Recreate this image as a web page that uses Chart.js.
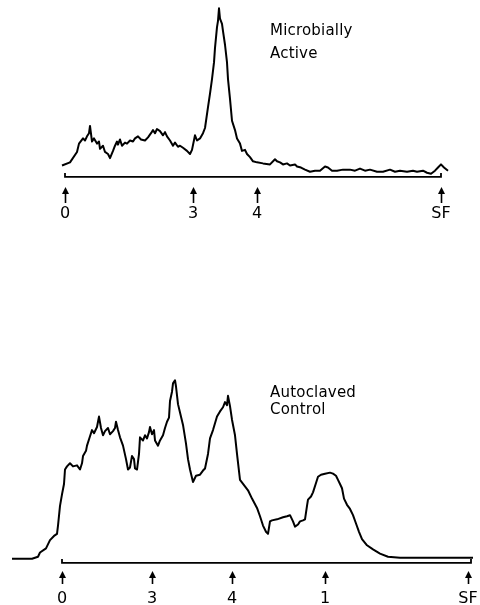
<!DOCTYPE html>
<html>
<head>
<meta charset="utf-8">
<title>Radioscan traces</title>
<script src="https://cdn.jsdelivr.net/npm/chart.js@4.4.1/dist/chart.umd.min.js"></script>
<style>
    html, body { margin: 0; padding: 0; background: #fff; }
    body { width: 480px; height: 605px; position: relative; overflow: hidden; }
    .panel { position: absolute; left: 0; width: 480px; }
    #topPanel { top: 0; height: 230px; }
    #bottomPanel { top: 373px; height: 232px; }
</style>
</head>
<body>
<div class="panel" id="topPanel"><canvas id="activeChart"></canvas></div>
<div class="panel" id="bottomPanel"><canvas id="controlChart"></canvas></div>

<script>
// ========================================
// DATOS (distancia desde el origen, respuesta del detector)
// ========================================
const activeX = [-3, 5, 12, 14, 18, 20, 22, 24, 25, 27, 29, 32, 34, 35, 38, 40, 43, 45, 48, 50,
    52, 53, 55, 57, 60, 62, 65, 68, 70, 73, 76, 80, 83, 86, 88, 90, 92, 95, 98, 100,
    102, 105, 108, 110, 113, 115, 118, 122, 125, 127, 130, 132, 135, 138, 140, 143, 145, 147, 149, 150,
    152, 153, 154, 155, 157, 158, 160, 162, 163, 165, 167, 170, 172, 175, 177, 180, 182, 185, 188, 192,
    198, 205, 210, 212, 215, 218, 222, 225, 230, 232, 236, 240, 245, 250, 255, 260, 263, 267, 272, 278,
    285, 290, 295, 300, 305, 312, 318, 325, 330, 335, 342, 348, 352, 358, 362, 366, 370, 373, 376, 379, 383];
const activeY = [11, 14, 24, 32, 37, 35, 39, 42, 49, 34, 37, 32, 34, 27, 30, 24, 22, 18, 25, 30,
    34, 31, 36, 30, 33, 32, 35, 34, 37, 39, 36, 35, 38, 42, 45, 42, 46, 44, 40, 43,
    39, 35, 30, 33, 29, 30, 28, 25, 22, 26, 40, 35, 37, 42, 47, 67, 80, 94, 110, 124,
    144, 150, 162, 152, 147, 140, 127, 110, 94, 75, 54, 45, 37, 32, 25, 26, 22, 19, 15, 14,
    13, 12, 17, 15, 14, 12, 13, 11, 12, 10, 9, 7, 5, 6, 6, 10, 9, 6, 6, 7,
    7, 6, 8, 6, 7, 5, 5, 7, 5, 6, 5, 6, 5, 6, 4, 3, 6, 9, 12, 9, 6];

const controlX = [-50, -30, -24, -22, -16, -12, -8, -5, -4, -2, 0, 2, 3, 5, 8, 11, 15, 18, 20, 21,
    24, 25, 28, 30, 32, 35, 36, 37, 39, 41, 43, 46, 48, 51, 53, 54, 56, 58, 61, 64,
    66, 68, 70, 72, 73, 75, 77, 78, 81, 83, 85, 87, 88, 90, 92, 93, 96, 98, 101, 103,
    105, 107, 108, 110, 111, 113, 114, 116, 118, 121, 124, 126, 128, 131, 134, 138, 141, 143, 146, 148,
    151, 155, 158, 161, 163, 165, 166, 168, 170, 173, 175, 178, 182, 186, 190, 195, 198, 201, 204, 206,
    208, 210, 215, 221, 225, 228, 231, 233, 236, 238, 241, 243, 245, 246, 249, 251, 254, 256, 259, 263,
    268, 271, 274, 276, 278, 280, 282, 285, 288, 291, 294, 297, 300, 305, 311, 318, 326, 338, 360, 390, 411];
const controlY = [4, 4, 6, 10, 14, 22, 26, 28, 36, 55, 66, 76, 90, 93, 96, 93, 94, 90, 96, 103,
    108, 113, 122, 128, 125, 131, 136, 141, 130, 123, 127, 130, 124, 127, 130, 136, 128, 121, 113, 100,
    90, 92, 103, 100, 91, 90, 105, 121, 118, 123, 120, 126, 131, 124, 128, 118, 113, 118, 123, 130,
    136, 140, 156, 165, 173, 176, 170, 153, 145, 133, 115, 100, 90, 78, 84, 85, 89, 91, 105, 120,
    128, 141, 146, 150, 155, 152, 161, 151, 138, 123, 105, 80, 75, 70, 62, 53, 45, 36, 30, 28,
    40, 41, 42, 44, 45, 46, 40, 35, 37, 40, 41, 42, 55, 61, 64, 68, 77, 83, 85, 86,
    87, 86, 84, 80, 76, 72, 62, 56, 52, 46, 38, 30, 23, 17, 13, 9, 6, 5, 5, 5, 5];

// marcas del eje (flechas)
const activeTicks = [0, 128, 192, 376];
const activeTickLabels = ['0', '3', '4', 'SF'];
const controlTicks = [0, 90, 170, 263, 406];
const controlTickLabels = ['0', '3', '4', '1', 'SF'];

// rótulos
const activeLabel = ['Microbially', 'Active'];
const controlLabel = ['Autoclaved', 'Control'];

// ========================================
// PLUGIN: línea base, flechas y rótulo
// ========================================
const scanDecor = {
    id: 'scanDecor',
    afterDraw(chart, args, opts) {
        const ctx = chart.ctx;
        const x = chart.scales.x;
        const y = chart.scales.y;
        const y0 = y.getPixelForValue(0);
        const xa = x.getPixelForValue(opts.bracket[0]);
        const xb = x.getPixelForValue(opts.bracket[1]);

        ctx.save();
        ctx.strokeStyle = '#000';
        ctx.fillStyle = '#000';
        ctx.lineWidth = 1.8;

        // base en forma de corchete
        ctx.beginPath();
        ctx.moveTo(xa, y0 - 4);
        ctx.lineTo(xa, y0);
        ctx.lineTo(xb, y0);
        ctx.lineTo(xb, y0 - 4);
        ctx.stroke();

        // flechas
        const top = chart.chartArea.bottom + opts.arrow[0];
        const bot = chart.chartArea.bottom + opts.arrow[1];
        opts.ticks.forEach(v => {
            const px = Math.round(x.getPixelForValue(v)) + 0.5;
            ctx.lineWidth = 1.6;
            ctx.beginPath();
            ctx.moveTo(px, top + 4);
            ctx.lineTo(px, bot);
            ctx.stroke();
            ctx.beginPath();
            ctx.moveTo(px, top - 1);
            ctx.lineTo(px - 3.5, top + 6);
            ctx.lineTo(px + 3.5, top + 6);
            ctx.closePath();
            ctx.fill();
        });

        // rótulo
        ctx.font = '15px "DejaVu Sans"';
        ctx.letterSpacing = '0.2px';
        ctx.textAlign = 'left';
        ctx.textBaseline = 'middle';
        const lx = x.getPixelForValue(opts.text.x);
        opts.text.lines.forEach((t, i) => {
            ctx.fillText(t, lx, y.getPixelForValue(opts.text.y[i]));
        });
        ctx.restore();
    }
};

// ========================================
// CREAR GRÁFICO
// ========================================
function makeScan(canvasId, xs, ys, cfg) {
    const points = xs.map((v, i) => ({ x: v, y: ys[i] }));
    return new Chart(document.getElementById(canvasId), {
        type: 'line',
        data: {
            datasets: [{
                data: points,
                borderColor: '#000',
                borderWidth: 2,
                pointRadius: 0,
                tension: 0,
                fill: false,
                borderJoinStyle: 'round'
            }]
        },
        options: {
            responsive: true,
            maintainAspectRatio: false,
            animation: false,
            events: [],
            layout: {
                padding: { left: cfg.padLeft, right: cfg.padRight, top: 0, bottom: 0 }
            },
            plugins: {
                legend: { display: false },
                tooltip: { enabled: false },
                scanDecor: {
                    bracket: cfg.bracket,
                    ticks: cfg.ticks,
                    arrow: cfg.arrow,
                    text: cfg.text
                }
            },
            scales: {
                x: {
                    type: 'linear',
                    min: cfg.xMin,
                    max: cfg.xMax,
                    grid: { display: false, drawTicks: false },
                    border: { display: false },
                    afterBuildTicks: s => { s.ticks = cfg.ticks.map(v => ({ value: v })); },
                    afterFit: s => { s.height = cfg.axisHeight; s.paddingLeft = 0; s.paddingRight = 0; },
                    ticks: {
                        padding: cfg.labelPad,
                        autoSkip: false,
                        maxRotation: 0,
                        color: '#000',
                        font: { family: '"DejaVu Sans"', size: 16 },
                        callback: (value, index) => cfg.tickLabels[index]
                    }
                },
                y: {
                    display: false,
                    min: cfg.yMin,
                    max: cfg.yMax
                }
            }
        },
        plugins: [scanDecor]
    });
}

makeScan('activeChart', activeX, activeY, {
    xMin: -5, xMax: 385, yMin: -2, yMax: 170,
    padLeft: 60, padRight: 30, axisHeight: 51, labelPad: 25,
    bracket: [0, 376], ticks: activeTicks, tickLabels: activeTickLabels,
    arrow: [9, 24],
    text: { x: 205, y: [140, 118], lines: activeLabel }
});

makeScan('controlChart', controlX, controlY, {
    xMin: -55, xMax: 415, yMin: -2, yMax: 183,
    padLeft: 7, padRight: 3, axisHeight: 40, labelPad: 24,
    bracket: [0, 409], ticks: controlTicks, tickLabels: controlTickLabels,
    arrow: [7, 19],
    text: { x: 208, y: [164, 147], lines: controlLabel }
});
</script>
</body>
</html>
